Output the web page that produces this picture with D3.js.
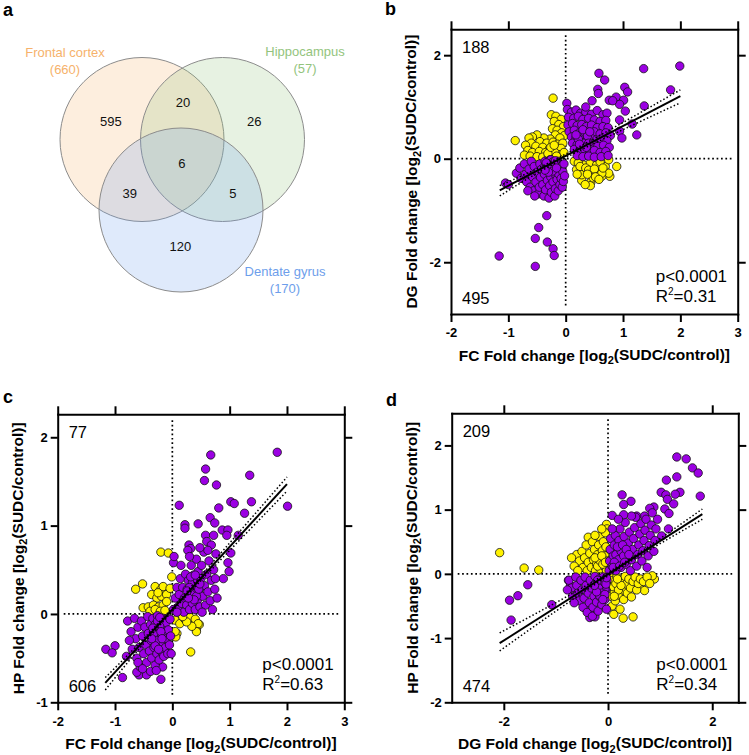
<!DOCTYPE html>
<html>
<body style="margin: 0; background: #fff">
<script src="https://cdn.jsdelivr.net/npm/d3@7"></script>
<script>
// ---------- panel a: Venn counts ----------
const vennNames = ["Frontal cortex", "Hippocampus", "Dentate gyrus"];
const vennTotals = [660, 57, 170];
const vennColors = ["#f6b26b", "#93c47d", "#6d9eeb"];
// membership [FC, HP, DG] of each region, and its gene count
const vennRegionSets = [[1,0,0], [1,1,0], [0,1,0], [1,1,1], [1,0,1], [0,1,1], [0,0,1]];
const vennRegionCounts = [595, 20, 26, 6, 39, 5, 120];

// ---------- panel b: FC vs DG ----------
const fcDgConc = [
  [1.99,1.79],[1.36,1.74],[0.58,1.65],[0.68,1.52],[0.56,1.34],[0.57,1.26],[1.03,1.38],[1.08,1.29],
  [1.83,1.33],[0.76,1.13],[0.88,1.19],[1.01,1.13],[0.94,1.05],[1.37,1.02],[1.04,0.92],[0.02,1.07],
  [0.94,0.75],[1.16,0.67],[0.94,0.53],[0.98,0.40],[1.24,0.46],[0.46,1.12],[0.82,1.12],
  [-1.05,-0.47],[-1.0,-0.5],[-0.33,-1.10],[-0.47,-1.33],[-0.53,-1.54],[-0.32,-1.61],[-0.22,-1.74],
  [-0.20,-1.87],[-1.16,-1.88],[-0.53,-2.08],
  [-0.86,-0.28],[-0.80,-0.18],[-0.78,-0.38],[-0.72,-0.10],[-0.70,-0.30],[-0.68,-0.45],[-0.64,-0.20],
  [-0.62,-0.55],[-0.60,-0.05],[-0.58,-0.35],[-0.56,-0.62],[-0.55,-0.15],[-0.52,-0.45],[-0.50,-0.26],
  [-0.48,-0.68],[-0.46,-0.55],[-0.45,-0.10],[-0.44,-0.36],[-0.42,-0.20],[-0.40,-0.50],[-0.38,-0.72],
  [-0.37,-0.30],[-0.36,-0.05],[-0.35,-0.60],[-0.33,-0.15],[-0.32,-0.42],[-0.30,-0.25],[-0.29,-0.76],
  [-0.28,-0.52],[-0.27,-0.02],[-0.26,-0.35],[-0.25,-0.65],[-0.24,-0.12],[-0.22,-0.45],[-0.20,-0.28],
  [-0.19,-0.72],[-0.18,-0.58],[-0.17,-0.18],[-0.15,-0.40],[-0.14,-0.05],[-0.13,-0.62],[-0.12,-0.30],
  [-0.10,-0.50],[-0.09,-0.15],[-0.08,-0.38],[-0.06,-0.55],[-0.05,-0.25],[-0.04,-0.44],[-0.03,-0.10],
  [-0.02,-0.33],[-0.66,-0.62],[-0.54,-0.72],
  [-0.30,-0.05],[-0.26,-0.02],[-0.22,-0.06],[-0.28,-0.12],[-0.24,-0.15],[-0.32,-0.16],[-0.20,-0.12],
  [-0.27,-0.20],[-0.34,-0.08],[-0.18,-0.04],[-0.23,-0.24],[-0.30,-0.26],[-0.36,-0.22],[-0.16,-0.18],
  [0.03,0.95],[0.10,0.90],[0.18,0.94],[0.26,0.88],[0.35,0.90],[0.45,0.86],[0.55,0.93],[0.65,0.85],
  [0.72,0.88],[0.05,0.80],[0.14,0.78],[0.22,0.82],[0.30,0.76],[0.40,0.78],[0.50,0.75],[0.60,0.72],
  [0.70,0.74],[0.04,0.65],[0.12,0.68],[0.20,0.64],[0.28,0.66],[0.36,0.62],[0.45,0.65],[0.55,0.60],
  [0.65,0.62],[0.74,0.60],[0.06,0.52],[0.15,0.55],[0.24,0.50],[0.32,0.54],[0.42,0.50],[0.50,0.52],
  [0.60,0.48],[0.70,0.50],[0.78,0.45],[0.10,0.42],[0.18,0.40],[0.27,0.42],[0.35,0.38],[0.44,0.40],
  [0.53,0.36],[0.62,0.38],[0.72,0.35],[0.12,0.30],[0.20,0.27],[0.30,0.30],[0.38,0.25],[0.47,0.28],
  [0.56,0.24],[0.66,0.26],[0.76,0.22],[0.15,0.18],[0.24,0.15],[0.33,0.18],[0.42,0.12],[0.50,0.16],
  [0.60,0.12],[0.70,0.14],[0.20,0.06],[0.30,0.04],[0.40,0.05],[0.50,0.03],[0.62,0.04],[0.74,0.06],
  [0.35,1.0],
  [0.28,0.36],[0.32,0.42],[0.36,0.34],[0.26,0.46],[0.30,0.30],[0.34,0.50],[0.22,0.38],[0.38,0.44],
  [0.40,0.30],[0.24,0.28],[0.30,0.56],[0.42,0.52],[0.18,0.46],[0.36,0.22]
];
const fcDgDisc = [
  [-0.22,1.17],[-0.88,0.35],
  [-0.25,0.85],[-0.17,0.82],[-0.08,0.76],[-0.20,0.72],[-0.12,0.66],[-0.04,0.62],[-0.23,0.58],
  [-0.15,0.55],[-0.07,0.50],[-0.02,0.45],[-0.18,0.46],[-0.10,0.40],[-0.27,0.38],[-0.38,0.40],
  [-0.50,0.46],[-0.58,0.42],[-0.64,0.40],[-0.45,0.33],[-0.33,0.30],[-0.22,0.32],[-0.14,0.28],
  [-0.05,0.30],[-0.60,0.30],[-0.70,0.26],[-0.52,0.24],[-0.40,0.22],[-0.28,0.20],[-0.18,0.18],
  [-0.08,0.20],[-0.66,0.16],[-0.58,0.12],[-0.46,0.14],[-0.35,0.12],[-0.24,0.10],[-0.12,0.08],
  [-0.72,0.07],[-0.62,0.05],[-0.50,0.04],[-0.40,0.03],[-0.30,0.05],[-0.20,0.03],[-0.03,0.12],
  [-0.28,0.06],[-0.22,0.08],[-0.25,0.14],[-0.19,0.12],[-0.31,0.10],[-0.16,0.05],[-0.26,0.22],[-0.20,0.26],
  [0.89,-0.15],[0.77,-0.34],[0.63,-0.34],[0.44,-0.45],[0.43,-0.52],[0.28,-0.42],
  [0.31,-0.12],[0.43,-0.08],[0.54,-0.12],[0.19,-0.21],[0.28,-0.31],[0.43,-0.28],[0.57,-0.28],
  [0.69,-0.15],[0.75,-0.02],[0.75,-0.28],[0.63,-0.28],[0.48,-0.37],[0.34,-0.50],[0.15,-0.05],
  [0.22,-0.08],[0.25,-0.15],[0.35,-0.18],[0.40,-0.22],[0.50,-0.20],[0.60,-0.06],[0.65,-0.18],
  [0.20,-0.30],[0.38,-0.30],[0.52,-0.35],[0.58,-0.40]
];
const fcDgFit = [[-1.15,-0.61],[2.0,1.21]];
const fcDgUpper = [[-1.15,-0.52],[0.0,0.09],[2.0,1.33]];
const fcDgLower = [[-1.15,-0.72],[0.0,0.02],[2.0,1.08]];

// ---------- panel c: FC vs HP ----------
const fcHpConc = [
  [1.83,1.83],[0.67,1.80],[0.58,1.64],[0.56,1.51],[0.77,1.46],[1.35,1.57],[2.01,1.22],[1.02,1.27],
  [1.08,1.25],[1.38,1.27],[0.81,1.20],[0.12,1.23],[1.26,1.14],[0.22,1.01],[0.22,0.97],[0.45,1.02],
  [0.66,1.09],[0.74,1.03],[0.58,0.89],[0.72,0.89],[0.87,0.95],[0.97,0.95],[0.95,0.89],[1.15,0.89],
  [1.02,0.69],[0.97,0.58],[0.99,0.48],[0.89,0.40],[0.29,0.78],[0.32,0.74],[0.27,0.72],[0.02,0.58],
  [0.03,0.65],[0.60,0.82],[0.68,0.78],
  [-1.16,-0.40],[-1.0,-0.36],[-1.05,-0.44],[-0.87,-0.72],[-0.58,-0.69],[-0.45,-0.69],[-0.38,-0.65],
  [-0.17,-0.60],[-0.20,-0.74],[-0.80,-0.48],[-0.62,-0.66],
  [-0.78,-0.08],[-0.72,-0.20],[-0.70,-0.40],[-0.66,-0.05],[-0.64,-0.28],[-0.62,-0.50],[-0.60,-0.15],
  [-0.58,-0.38],[-0.56,-0.60],[-0.54,-0.08],[-0.52,-0.25],[-0.50,-0.45],[-0.48,-0.15],[-0.46,-0.35],
  [-0.45,-0.55],[-0.43,-0.03],[-0.42,-0.22],[-0.40,-0.42],[-0.38,-0.12],[-0.37,-0.30],[-0.36,-0.50],
  [-0.34,-0.05],[-0.33,-0.20],[-0.32,-0.38],[-0.30,-0.58],[-0.29,-0.12],[-0.28,-0.28],[-0.27,-0.45],
  [-0.26,-0.02],[-0.25,-0.18],[-0.24,-0.35],[-0.23,-0.52],[-0.22,-0.08],[-0.21,-0.25],[-0.20,-0.42],
  [-0.18,-0.15],[-0.17,-0.32],[-0.16,-0.05],[-0.15,-0.48],[-0.14,-0.22],[-0.12,-0.38],[-0.11,-0.10],
  [-0.10,-0.28],[-0.08,-0.45],[-0.07,-0.18],[-0.05,-0.35],[-0.04,-0.06],[-0.03,-0.25],[-0.02,-0.45],
  [-0.60,-0.55],[-0.52,-0.62],[-0.28,-0.64],[-0.75,-0.30],
  [-0.27,-0.18],[-0.30,-0.12],[-0.24,-0.24],[-0.22,-0.14],[-0.32,-0.22],[-0.28,-0.30],[-0.20,-0.20],
  [-0.26,-0.08],[-0.34,-0.16],[-0.18,-0.28],[-0.30,-0.36],[-0.24,-0.40],[-0.36,-0.28],[-0.22,-0.04],
  [0.02,0.05],[0.05,0.18],[0.08,0.30],[0.10,0.08],[0.12,0.22],[0.14,0.40],[0.16,0.12],[0.18,0.30],
  [0.20,0.02],[0.21,0.18],[0.23,0.45],[0.25,0.10],[0.26,0.28],[0.28,0.38],[0.30,0.05],[0.31,0.20],
  [0.33,0.55],[0.34,0.32],[0.35,0.12],[0.37,0.44],[0.38,0.25],[0.40,0.05],[0.41,0.35],[0.42,0.62],
  [0.44,0.16],[0.45,0.48],[0.47,0.28],[0.48,0.08],[0.50,0.40],[0.51,0.55],[0.53,0.20],[0.55,0.70],
  [0.56,0.32],[0.58,0.10],[0.60,0.45],[0.62,0.25],[0.64,0.60],[0.66,0.15],[0.68,0.38],[0.70,0.05],
  [0.72,0.50],[0.74,0.28],[0.76,0.68],[0.78,0.18],[0.75,0.40],[0.62,0.72],[0.48,0.75],[0.30,0.65],
  [0.15,0.55],[0.08,0.02],[0.52,0.02],
  [0.37,0.27],[0.33,0.22],[0.40,0.32],[0.35,0.36],[0.42,0.20],[0.30,0.30],[0.38,0.16],[0.44,0.38],
  [0.28,0.18],[0.46,0.28],[0.32,0.42],[0.26,0.26],[0.40,0.44],[0.48,0.34]
];
const fcHpDisc = [
  [-0.20,0.70],[-0.07,0.69],[-0.64,0.28],[-0.52,0.34],[-0.01,0.42],
  [-0.30,0.31],[-0.21,0.27],[-0.16,0.31],[-0.36,0.22],[-0.27,0.18],[-0.19,0.20],[-0.10,0.22],
  [-0.04,0.29],[-0.51,0.07],[-0.42,0.08],[-0.33,0.10],[-0.24,0.08],[-0.16,0.10],[-0.10,0.14],
  [-0.39,0.03],[-0.30,0.05],[-0.21,0.03],[-0.25,0.24],[-0.13,0.04],
  [0.32,-0.43],[0.42,-0.18],[0.47,-0.12],[0.40,-0.12],[0.08,-0.22],[0.06,-0.26],
  [0.05,-0.07],[0.13,-0.11],[0.22,-0.06],[0.31,-0.04],[0.40,-0.06],[0.45,-0.11],[0.42,-0.20],
  [0.34,-0.14],[0.25,-0.09],[0.05,-0.20],[0.18,-0.03]
];
const fcHpFit = [[-1.17,-0.78],[2.0,1.47]];
const fcHpUpper = [[-1.17,-0.72],[0.0,0.07],[2.0,1.55]];
const fcHpLower = [[-1.17,-0.86],[0.0,0.03],[2.0,1.39]];

// ---------- panel d: DG vs HP ----------
const dgHpConc = [
  [1.32,1.82],[1.50,1.79],[1.62,1.65],[1.73,1.57],[1.77,1.21],[1.32,1.51],[1.12,1.46],[1.38,1.27],
  [1.29,1.24],[1.02,1.27],[1.11,1.23],[1.14,1.16],[1.26,1.09],[1.09,1.01],[1.17,0.94],[1.16,0.70],
  [1.03,0.59],[0.27,1.23],[0.44,1.13],[0.30,1.08],[0.08,0.91],[0.88,1.04],[0.80,1.02],[0.70,0.90],
  [0.55,0.90],
  [-1.89,-0.41],[-1.73,-0.34],[-1.54,-0.17],[-1.86,-0.72],[-1.08,-0.48],[-0.76,-0.10],[-0.72,-0.18],
  [-0.43,-0.54],[-0.35,-0.68],[-0.25,-0.67],[-0.30,-0.62],
  [-0.75,-0.10],[-0.70,-0.22],[-0.68,-0.35],[-0.62,-0.05],[-0.60,-0.18],[-0.58,-0.30],[-0.55,-0.42],
  [-0.52,-0.10],[-0.50,-0.25],[-0.48,-0.52],[-0.46,-0.38],[-0.44,-0.05],[-0.42,-0.18],[-0.40,-0.60],
  [-0.38,-0.30],[-0.36,-0.45],[-0.34,-0.10],[-0.32,-0.22],[-0.30,-0.66],[-0.29,-0.52],[-0.27,-0.35],
  [-0.25,-0.04],[-0.24,-0.15],[-0.22,-0.44],[-0.20,-0.27],[-0.19,-0.58],[-0.17,-0.08],[-0.15,-0.36],
  [-0.14,-0.20],[-0.12,-0.48],[-0.10,-0.30],[-0.09,-0.05],[-0.07,-0.14],[-0.06,-0.40],[-0.04,-0.25],
  [-0.03,-0.55],[-0.02,-0.10],[-0.78,-0.25],[-0.65,-0.45],
  [-0.10,-0.20],[-0.14,-0.14],[-0.06,-0.24],[-0.18,-0.22],[-0.08,-0.12],[-0.12,-0.30],[-0.04,-0.16],
  [-0.20,-0.10],[-0.16,-0.34],[-0.22,-0.28],[-0.06,-0.32],[-0.26,-0.18],[-0.03,-0.06],[-0.10,-0.40],
  [0.02,0.05],[0.03,0.20],[0.04,0.38],[0.05,0.55],[0.08,0.12],[0.10,0.28],[0.12,0.45],[0.14,0.60],
  [0.15,0.05],[0.17,0.20],[0.19,0.35],[0.21,0.52],[0.23,0.70],[0.25,0.10],[0.27,0.26],[0.29,0.42],
  [0.31,0.58],[0.33,0.80],[0.35,0.15],[0.37,0.32],[0.39,0.48],[0.41,0.65],[0.43,0.05],[0.45,0.22],
  [0.47,0.38],[0.49,0.55],[0.51,0.72],[0.53,0.88],[0.55,0.12],[0.57,0.30],[0.59,0.45],[0.61,0.62],
  [0.63,0.78],[0.65,0.20],[0.67,0.36],[0.69,0.52],[0.71,0.68],[0.73,0.85],[0.75,0.10],[0.77,0.28],
  [0.79,0.44],[0.81,0.60],[0.83,0.76],[0.85,0.95],[0.88,0.35],[0.90,0.52],[0.92,0.70],[0.95,0.85],
  [0.45,0.90],[0.30,0.92],[0.20,0.85],[0.08,0.70],
  [0.15,0.30],[0.20,0.22],[0.25,0.35],[0.12,0.18],[0.30,0.28],[0.18,0.42],[0.28,0.45],[0.35,0.38],
  [0.10,0.10],[0.22,0.12],[0.40,0.30],[0.32,0.18]
];
const dgHpDisc = [
  [-2.08,0.33],[-1.61,0.09],[-1.33,0.06],[-0.38,0.57],[-0.03,0.77],[-0.02,0.70],
  [-0.60,0.30],[-0.55,0.20],[-0.50,0.35],[-0.48,0.10],[-0.45,0.25],[-0.42,0.45],[-0.40,0.05],
  [-0.38,0.18],[-0.35,0.32],[-0.32,0.10],[-0.30,0.50],[-0.28,0.22],[-0.26,0.38],[-0.24,0.05],
  [-0.22,0.15],[-0.20,0.30],[-0.18,0.45],[-0.16,0.58],[-0.15,0.08],[-0.13,0.22],[-0.11,0.36],
  [-0.09,0.50],[-0.08,0.12],[-0.06,0.28],[-0.05,0.64],[-0.04,0.42],[-0.03,0.05],[-0.02,0.20],
  [-0.65,0.12],[-0.58,0.05],[-0.70,0.25],[-0.25,0.60],[-0.12,0.70],
  [-0.20,0.12],[-0.15,0.20],[-0.10,0.15],[-0.25,0.25],[-0.12,0.28],[-0.05,0.18],
  [0.11,-0.63],[0.29,-0.69],[0.48,-0.67],[0.60,-0.21],[0.70,-0.26],[0.89,-0.08],[0.85,-0.03],
  [0.03,-0.05],[0.05,-0.20],[0.06,-0.35],[0.08,-0.50],[0.10,-0.10],[0.12,-0.28],[0.14,-0.42],
  [0.17,-0.05],[0.19,-0.18],[0.21,-0.33],[0.23,-0.55],[0.26,-0.10],[0.28,-0.25],[0.30,-0.40],
  [0.33,-0.04],[0.35,-0.16],[0.37,-0.30],[0.40,-0.08],[0.43,-0.22],[0.45,-0.36],[0.48,-0.12],
  [0.52,-0.05],[0.55,-0.25],[0.58,-0.15],[0.62,-0.08],[0.68,-0.12],[0.75,-0.05],[0.80,-0.15],
  [0.10,-0.20],[0.15,-0.15],[0.20,-0.25],[0.12,-0.35],[0.25,-0.18],[0.18,-0.08]
];
const dgHpFit = [[-2.08,-1.08],[1.81,0.93]];
const dgHpUpper = [[-2.08,-0.92],[0.0,0.02],[1.81,1.01]];
const dgHpLower = [[-2.08,-1.20],[0.0,-0.03],[1.81,0.85]];

// quadrant counts [discordant, concordant] and R squared per panel
const quadCounts = {b: [188, 495], c: [77, 606], d: [209, 474]};
const rSquared = {b: "0.31", c: "0.63", d: "0.34"};

const FONT = "'Liberation Sans', Arial, Helvetica, sans-serif";
const PURPLE = "#9b00e3";
const YELLOW = "#fff200";

const svg = d3.select("body").append("svg")
  .attr("width", 749)
  .attr("height", 755)
  .style("font-family", FONT);

// ---------- draw Venn ----------
const vennR = 82;
const vennCentres = [[142, 139.5], [222.5, 139.5], [181, 210]];
const vennLabelPos = [[65, 53], [305, 52], [285, 272]];

const venn = svg.append("g");
venn.selectAll("circle")
  .data(vennNames)
  .enter()
  .append("circle")
  .attr("cx", (d, i) => vennCentres[i][0])
  .attr("cy", (d, i) => vennCentres[i][1])
  .attr("r", vennR)
  .attr("fill", (d, i) => vennColors[i])
  .attr("fill-opacity", 0.22)
  .attr("stroke", "#8c8c8c")
  .attr("stroke-width", 1);

vennNames.forEach((name, i) => {
  const t = venn.append("text")
    .attr("text-anchor", "middle")
    .attr("font-size", 13)
    .attr("fill", vennColors[i]);
  t.append("tspan").attr("x", vennLabelPos[i][0]).attr("y", vennLabelPos[i][1] + 4).text(name);
  t.append("tspan").attr("x", vennLabelPos[i][0]).attr("y", vennLabelPos[i][1] + 21).text("(" + vennTotals[i] + ")");
});

// region labels sit between the circles they belong to, pushed away from the others
const mean = pts => [d3.mean(pts, p => p[0]), d3.mean(pts, p => p[1])];
vennRegionSets.forEach((sets, k) => {
  const inc = vennCentres.filter((c, i) => sets[i]);
  const exc = vennCentres.filter((c, i) => !sets[i]);
  let pos = mean(inc);
  if (exc.length) {
    const m = mean(exc);
    pos = [pos[0] + 0.52 * (pos[0] - m[0]), pos[1] + 0.52 * (pos[1] - m[1])];
  }
  venn.append("text")
    .attr("x", pos[0])
    .attr("y", pos[1])
    .attr("dy", "0.35em")
    .attr("text-anchor", "middle")
    .attr("font-size", 13)
    .attr("fill", "#111")
    .text(vennRegionCounts[k]);
});

// ---------- panel letters ----------
[["a", 3, 16], ["b", 385, 15], ["c", 3, 403], ["d", 386, 406]].forEach(([l, x, y]) => {
  svg.append("text").attr("x", x).attr("y", y)
    .attr("font-size", 18).attr("font-weight", "bold").text(l);
});

// ---------- scatter panels ----------
const styleAxis = (sel, labels) => {
  sel.select(".domain").attr("stroke-width", 2).attr("stroke-linecap", "square");
  sel.selectAll(".tick line").attr("stroke-width", 2);
  if (!labels) {
    sel.selectAll(".tick text").remove();
    return;
  }
  sel.selectAll(".tick text")
    .attr("fill", "#000")
    .attr("font-family", FONT)
    .attr("font-size", 13)
    .attr("font-weight", "bold");
};

const writeLabel = (sel, prefix) => {
  sel.append("tspan").text(prefix + " Fold change [log");
  sel.append("tspan").attr("font-size", 11).attr("dy", "0.3em").text("2");
  sel.append("tspan").attr("dy", "-0.3em").text("(SUDC/control)]");
};

const drawScatter = (p) => {
  const x = d3.scaleLinear().domain(p.xDomain).range([p.left, p.left + p.width]);
  const y = d3.scaleLinear().domain(p.yDomain).range([p.top + p.height, p.top]);
  const bottom = p.top + p.height;
  const right = p.left + p.width;
  const g = svg.append("g");

  // dotted zero lines
  g.append("line")
    .attr("x1", x(0)).attr("x2", x(0))
    .attr("y1", p.top + 6).attr("y2", bottom - 6);
  g.append("line")
    .attr("x1", p.left + 6).attr("x2", right - 6)
    .attr("y1", y(0)).attr("y2", y(0));
  g.selectAll("line")
    .attr("stroke", "#000")
    .attr("stroke-width", 1.7)
    .attr("stroke-dasharray", "1.7,2.7");

  // points: discordant (yellow) first, concordant (purple) on top
  [[p.disc, YELLOW], [p.conc, PURPLE]].forEach(([pts, col]) => {
    g.append("g").selectAll("circle")
      .data(pts)
      .enter()
      .append("circle")
      .attr("cx", (d) => x(d[0]))
      .attr("cy", (d) => y(d[1]))
      .attr("r", 4.2)
      .attr("fill", col)
      .attr("stroke", "#111")
      .attr("stroke-width", 0.8);
  });

  // regression line and 95% band
  const line = d3.line().x((d) => x(d[0])).y((d) => y(d[1])).curve(d3.curveNatural);
  [p.upper, p.lower].forEach((band) => {
    g.append("path").attr("d", line(band))
      .attr("fill", "none").attr("stroke", "#000")
      .attr("stroke-width", 1.5).attr("stroke-dasharray", "1.5,2.2");
  });
  g.append("path").attr("d", line(p.fit))
    .attr("fill", "none").attr("stroke", "#000").attr("stroke-width", 2);

  // axes (mirror axes on top/right carry no zero tick)
  const noZero = (v) => v.filter((t) => t !== 0);
  g.append("g").attr("transform", `translate(0,${bottom})`)
    .call(d3.axisBottom(x).tickValues(p.xTicks).tickSize(8).tickPadding(6)
      .tickSizeOuter(0).tickFormat((d) => String(d)))
    .call((s) => styleAxis(s, true));
  g.append("g").attr("transform", `translate(0,${p.top})`)
    .call(d3.axisTop(x).tickValues(noZero(p.xTicks)).tickSize(8).tickSizeOuter(0))
    .call((s) => styleAxis(s, false));
  g.append("g").attr("transform", `translate(${p.left},0)`)
    .call(d3.axisLeft(y).tickValues(p.yTicks).tickSize(7).tickPadding(3)
      .tickSizeOuter(0).tickFormat((d) => String(d)))
    .call((s) => styleAxis(s, true));
  g.append("g").attr("transform", `translate(${right},0)`)
    .call(d3.axisRight(y).tickValues(noZero(p.yTicks)).tickSize(8).tickSizeOuter(0))
    .call((s) => styleAxis(s, false));

  // axis titles
  g.append("text")
    .attr("x", (p.left + right) / 2).attr("y", bottom + 47)
    .attr("text-anchor", "middle").attr("font-size", 15.5).attr("font-weight", "bold")
    .call((s) => writeLabel(s, p.xName));
  g.append("text")
    .attr("transform", `translate(${p.left - 39},${(p.top + bottom) / 2}) rotate(-90)`)
    .attr("dy", "0.35em")
    .attr("text-anchor", "middle").attr("font-size", 15.5).attr("font-weight", "bold")
    .call((s) => writeLabel(s, p.yName));

  // corner annotations
  g.append("text").attr("x", p.left + 11).attr("y", p.top + 24)
    .attr("font-size", 16.5).text(p.counts[0]);
  g.append("text").attr("x", p.left + 11).attr("y", bottom - 10)
    .attr("font-size", 16.5).text(p.counts[1]);
  g.append("text").attr("x", right - 82).attr("y", bottom - 32)
    .attr("font-size", 17).text("p<0.0001");
  const r2 = g.append("text").attr("x", right - 82).attr("y", bottom - 12).attr("font-size", 17);
  r2.append("tspan").text("R");
  r2.append("tspan").attr("font-size", 10).attr("dy", "-0.7em").text("2");
  r2.append("tspan").attr("dy", "0.42em").text("=" + p.r2);
};

drawScatter({
  left: 451, top: 29.3, width: 286.7, height: 284.7,
  xDomain: [-2, 3], yDomain: [-3, 2.5],
  xTicks: [-2, -1, 0, 1, 2, 3], yTicks: [-2, 0, 2],
  conc: fcDgConc, disc: fcDgDisc,
  fit: fcDgFit, upper: fcDgUpper, lower: fcDgLower,
  xName: "FC", yName: "DG",
  counts: quadCounts.b, r2: rSquared.b
});

drawScatter({
  left: 57.7, top: 414.3, width: 286.6, height: 288,
  xDomain: [-2, 3], yDomain: [-1, 2.26],
  xTicks: [-2, -1, 0, 1, 2, 3], yTicks: [-1, 0, 1, 2],
  conc: fcHpConc, disc: fcHpDisc,
  fit: fcHpFit, upper: fcHpUpper, lower: fcHpLower,
  xName: "FC", yName: "HP",
  counts: quadCounts.c, r2: rSquared.c
});

drawScatter({
  left: 451.7, top: 413.3, width: 286.6, height: 289,
  xDomain: [-3, 2.5], yDomain: [-2, 2.5],
  xTicks: [-2, 0, 2], yTicks: [-2, -1, 0, 1, 2],
  conc: dgHpConc, disc: dgHpDisc,
  fit: dgHpFit, upper: dgHpUpper, lower: dgHpLower,
  xName: "DG", yName: "HP",
  counts: quadCounts.d, r2: rSquared.d
});
</script>
</body>
</html>
